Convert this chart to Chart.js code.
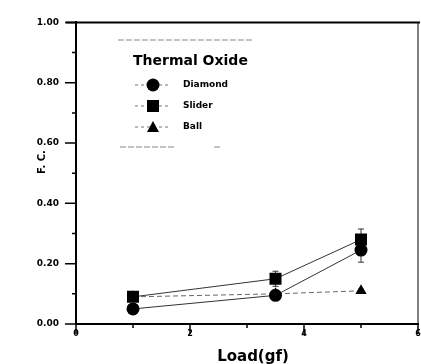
<!DOCTYPE html>
<html>
<head>
<meta charset="utf-8">
<script src="https://cdn.jsdelivr.net/npm/chart.js"></script>
<style>
    html, body { margin: 0; padding: 0; background: #fff; }
    canvas { display: block; }
</style>
</head>
<body>
<canvas id="fcChart" width="421" height="364"></canvas>
<script>
// --- data ---
const loads = [1, 3.5, 5];                 // Load (gf)
const diamondFC = [0.05, 0.095, 0.245];
const sliderFC = [0.09, 0.15, 0.28];
const ballFC = [0.09, 0.10, 0.11];
const diamondErr = [0.01, 0.01, 0.04];
const sliderErr = [0.01, 0.025, 0.035];
const ballErr = [0.005, 0.005, 0.005];
const xTicks = [0, 2, 4, 6];
const yTicks = [0.0, 0.2, 0.4, 0.6, 0.8, 1.0];
const legendTitle = 'Thermal Oxide';
const yTitle = 'F. C.';
const xTitle = 'Load(gf)';

const FONT = '"DejaVu Sans", Arial, sans-serif';

function toPoints(ys) {
    return loads.map((x, i) => ({ x: x, y: ys[i] }));
}

// error bars go under the markers
const errorBarPlugin = {
    id: 'errorBars',
    beforeDatasetsDraw(chart) {
        const ctx = chart.ctx;
        const xs = chart.scales.x;
        const ys = chart.scales.y;
        ctx.save();
        ctx.strokeStyle = '#333';
        ctx.lineWidth = 1;
        chart.data.datasets.forEach(ds => {
            ds.data.forEach((p, i) => {
                const e = ds.errors[i];
                if (!e) return;
                const px = xs.getPixelForValue(p.x);
                const top = ys.getPixelForValue(p.y + e);
                const bot = ys.getPixelForValue(p.y - e);
                ctx.beginPath();
                ctx.moveTo(px, top); ctx.lineTo(px, bot);
                ctx.moveTo(px - 3, top); ctx.lineTo(px + 3, top);
                ctx.moveTo(px - 3, bot); ctx.lineTo(px + 3, bot);
                ctx.stroke();
            });
        });
        ctx.restore();
    }
};

// axis ticks, frame, axis titles and the boxed legend
const decorPlugin = {
    id: 'decor',
    afterDatasetsDraw(chart) {
        const ctx = chart.ctx;
        const area = chart.chartArea;
        const xs = chart.scales.x;
        const ys = chart.scales.y;

        ctx.save();
        // frame: top and right
        ctx.strokeStyle = '#000';
        ctx.lineWidth = 2;
        ctx.beginPath();
        ctx.moveTo(area.left - 10, area.top);
        ctx.lineTo(area.right + 2, area.top);
        ctx.stroke();
        ctx.lineWidth = 1;
        ctx.beginPath();
        ctx.moveTo(area.right, area.top);
        ctx.lineTo(area.right, area.bottom);
        ctx.stroke();

        // tick marks
        ctx.lineWidth = 1.5;
        ctx.beginPath();
        for (let v = 0; v <= 6; v++) {
            const px = xs.getPixelForValue(v);
            const len = v % 2 === 0 ? 10 : 4;
            ctx.moveTo(px, area.bottom);
            ctx.lineTo(px, area.bottom + len);
        }
        for (let k = 0; k <= 10; k++) {
            const py = ys.getPixelForValue(k / 10);
            const len = k % 2 === 0 ? 11 : 4;
            ctx.moveTo(area.left, py);
            ctx.lineTo(area.left - len, py);
        }
        ctx.stroke();

        // axis titles
        ctx.fillStyle = '#000';
        ctx.textAlign = 'center';
        ctx.textBaseline = 'middle';
        ctx.font = 'bold 15px ' + FONT;
        ctx.fillText(xTitle, 253, 357);
        ctx.font = 'bold 10px ' + FONT;
        ctx.save();
        ctx.translate(42, 162);
        ctx.rotate(-Math.PI / 2);
        ctx.fillText(yTitle, 0, 0);
        ctx.restore();

        // legend box
        ctx.strokeStyle = '#888';
        ctx.lineWidth = 1;
        ctx.setLineDash([6, 2]);
        ctx.beginPath();
        ctx.moveTo(118, 40); ctx.lineTo(253, 40);
        ctx.moveTo(120, 147); ctx.lineTo(176, 147);
        ctx.moveTo(214, 147); ctx.lineTo(222, 147);
        ctx.stroke();

        ctx.font = 'bold 14px ' + FONT;
        ctx.textAlign = 'left';
        ctx.fillText(legendTitle, 133, 61);

        const rows = [85, 106, 127];
        chart.data.datasets.forEach((ds, i) => {
            const cy = rows[i];
            const cx = 153;
            ctx.strokeStyle = '#777';
            ctx.setLineDash([3, 3]);
            ctx.beginPath();
            ctx.moveTo(135, cy); ctx.lineTo(170, cy);
            ctx.stroke();
            ctx.setLineDash([]);
            ctx.fillStyle = '#000';
            ctx.beginPath();
            if (ds.pointStyle === 'circle') {
                ctx.arc(cx, cy, 6.5, 0, Math.PI * 2);
            } else if (ds.pointStyle === 'rect') {
                ctx.rect(cx - 6, cy - 6, 12, 12);
            } else {
                ctx.moveTo(cx, cy - 6);
                ctx.lineTo(cx + 6, cy + 5);
                ctx.lineTo(cx - 6, cy + 5);
                ctx.closePath();
            }
            ctx.fill();
            ctx.font = 'bold 9px ' + FONT;
            ctx.fillText(ds.label, 183, cy);
        });
        ctx.restore();
    }
};

const ctx = document.getElementById('fcChart').getContext('2d');
new Chart(ctx, {
    type: 'line',
    data: {
        datasets: [
            {
                label: 'Diamond',
                data: toPoints(diamondFC),
                errors: diamondErr,
                pointStyle: 'circle',
                pointRadius: 6.5,
                borderColor: '#333',
                borderWidth: 1,
                backgroundColor: '#000',
                pointBackgroundColor: '#000',
                pointBorderColor: '#000',
                pointBorderWidth: 0
            },
            {
                label: 'Slider',
                data: toPoints(sliderFC),
                errors: sliderErr,
                pointStyle: 'rect',
                pointRadius: 8.5,
                borderColor: '#333',
                borderWidth: 1,
                backgroundColor: '#000',
                pointBackgroundColor: '#000',
                pointBorderColor: '#000',
                pointBorderWidth: 0
            },
            {
                label: 'Ball',
                data: toPoints(ballFC),
                errors: ballErr,
                pointStyle: 'triangle',
                pointRadius: 6.5,
                borderColor: '#666',
                borderWidth: 1,
                borderDash: [5, 3],
                backgroundColor: '#000',
                pointBackgroundColor: '#000',
                pointBorderColor: '#000',
                pointBorderWidth: 0
            }
        ]
    },
    options: {
        responsive: false,
        devicePixelRatio: 1,
        animation: false,
        layout: { autoPadding: false, padding: { top: 14, right: 3, left: 0, bottom: 0 } },
        plugins: {
            legend: { display: false },
            tooltip: { enabled: false }
        },
        scales: {
            x: {
                type: 'linear',
                min: 0,
                max: 6,
                afterBuildTicks: scale => { scale.ticks = xTicks.map(v => ({ value: v })); },
                afterFit: scale => {
                    scale.height = 40;
                    scale.paddingLeft = 0;
                    scale.paddingRight = 0;
                },
                ticks: {
                    color: '#000',
                    padding: 5,
                    font: { family: FONT, size: 8, weight: 'bold' }
                },
                grid: { drawOnChartArea: false, drawTicks: false },
                border: { color: '#000', width: 2 }
            },
            y: {
                type: 'linear',
                min: 0,
                max: 1,
                afterBuildTicks: scale => { scale.ticks = yTicks.map(v => ({ value: v })); },
                afterFit: scale => { scale.width = 76; },
                ticks: {
                    color: '#000',
                    padding: 17,
                    font: { family: FONT, size: 9, weight: 'bold' },
                    callback: v => v.toFixed(2)
                },
                grid: { drawOnChartArea: false, drawTicks: false },
                border: { color: '#000', width: 2 }
            }
        }
    },
    plugins: [errorBarPlugin, decorPlugin]
});
</script>
</body>
</html>
